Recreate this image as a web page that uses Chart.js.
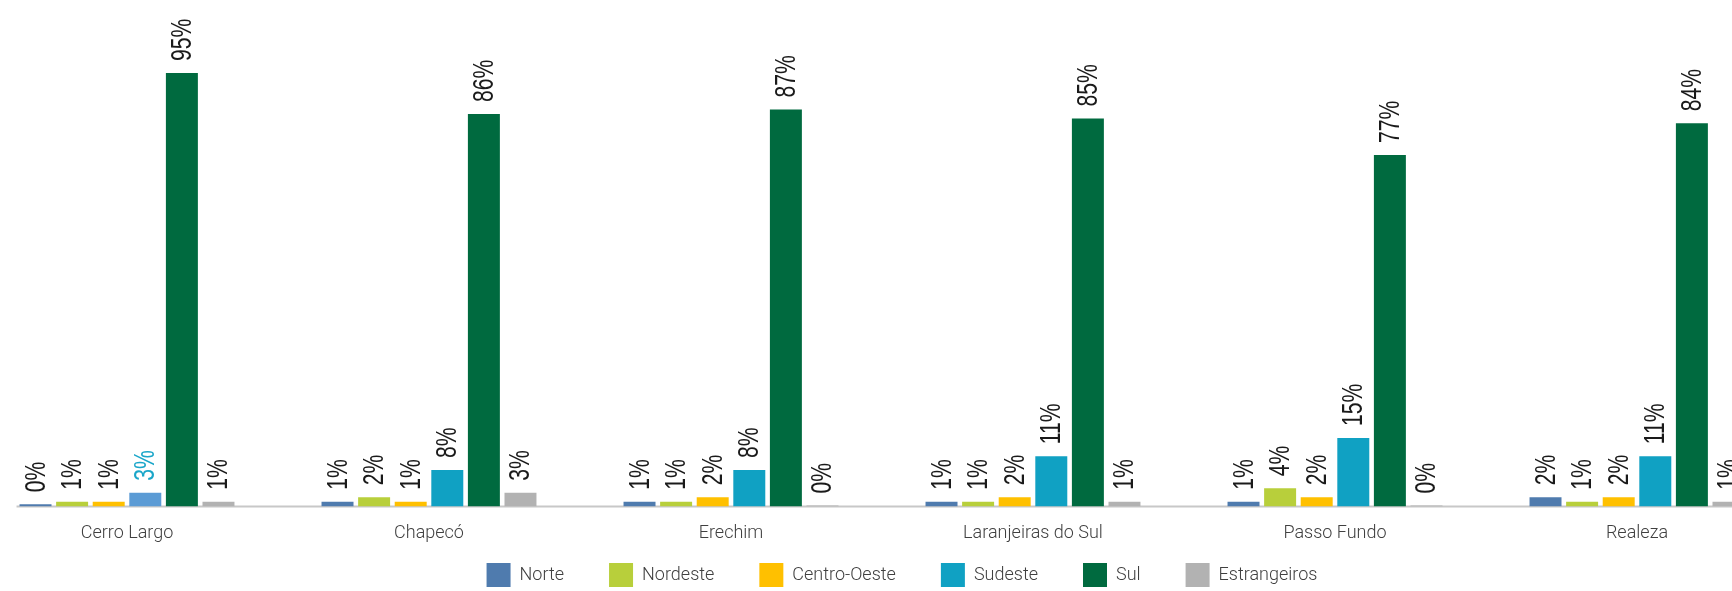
<!DOCTYPE html>
<html>
<head>
<meta charset="utf-8">
<script src="https://cdn.jsdelivr.net/npm/chart.js@4.4.1/dist/chart.umd.min.js"></script>
<style>
  html, body { margin: 0; padding: 0; background: #fff; overflow: hidden; }
  #wrap { position: relative; width: 1732px; height: 591px; overflow: hidden; }
  #chart { position: absolute; left: -24px; top: 0; }
</style>
</head>
<body>
<div id="wrap"><canvas id="chart" width="1852" height="591"></canvas></div>
<script>
// origem dos estudantes por campus (%)
const campi = ['Cerro Largo', 'Chapecó', 'Erechim', 'Laranjeiras do Sul', 'Passo Fundo', 'Realeza'];
const norte = [0.45, 1, 1, 1, 1, 2];
const nordeste = [1, 2, 1, 1, 4, 1];
const centroOeste = [1, 1, 2, 2, 2, 2];
const sudeste = [3, 8, 8, 11, 15, 11];
const sul = [95, 86, 87, 85, 77, 84];
const estrangeiros = [1, 3, 0.2, 1, 0.2, 1];

const TXT = '#404040';
const FONT = 'Roboto, "Liberation Sans", sans-serif';

// rótulos de valor girados acima de cada barra
const valueLabels = {
    id: 'valueLabels',
    afterDatasetsDraw(chart) {
        const ctx = chart.ctx;
        ctx.save();
        ctx.font = '29px "Liberation Sans", Arial, sans-serif';
        ctx.textAlign = 'left';
        ctx.textBaseline = 'middle';
        chart.data.datasets.forEach((ds, i) => {
            chart.getDatasetMeta(i).data.forEach((bar, j) => {
                const c = ds.labelColor;
                ctx.fillStyle = typeof c === 'function' ? c(j) : c;
                ctx.save();
                ctx.translate(bar.x, bar.y - 12);
                ctx.rotate(-Math.PI / 2);
                ctx.scale(0.73, 1);
                ctx.fillText(Math.round(ds.data[j]) + '%', 0, 1);
                ctx.restore();
            });
        });
        ctx.restore();
    }
};

// linha de base cinza sob as barras
const baseline = {
    id: 'baseline',
    beforeDatasetsDraw(chart) {
        const { ctx, chartArea, scales } = chart;
        const first = chart.getDatasetMeta(0).data[0];
        const y = scales.y.getPixelForValue(0);
        ctx.save();
        ctx.strokeStyle = '#c8c8c8';
        ctx.lineWidth = 2;
        ctx.beginPath();
        ctx.moveTo(first.x - first.width / 2 - 3, y);
        ctx.lineTo(chartArea.right, y);
        ctx.stroke();
        ctx.restore();
    }
};

// a legenda usa padding largo entre itens; sobe o bloco para caber no rodapé
const legendLift = {
    id: 'legendLift',
    afterLayout(chart) {
        const lg = chart.legend;
        lg.top = lg.bottom - lg.options.labels.padding - 28;
    }
};

function serie(label, data, color, extra) {
    return Object.assign({
        label: label,
        data: data,
        backgroundColor: color,
        legendColor: color,
        labelColor: '#1a1a1a',
        categoryPercentage: 0.727,
        barPercentage: 0.874
    }, extra || {});
}

new Chart(document.getElementById('chart'), {
    type: 'bar',
    data: {
        labels: campi,
        datasets: [
            serie('Norte', norte, '#4f7bae'),
            serie('Nordeste', nordeste, '#b8cf3b'),
            serie('Centro-Oeste', centroOeste, '#ffc000'),
            serie('Sudeste', sudeste, (c) => c.dataIndex === 0 ? '#5b9bd5' : '#10a1c3', {
                legendColor: '#10a1c3',
                labelColor: (j) => j === 0 ? '#1aa6c9' : '#1a1a1a'
            }),
            serie('Sul', sul, '#006a3f'),
            serie('Estrangeiros', estrangeiros, '#b2b2b2')
        ]
    },
    options: {
        responsive: false,
        animation: false,
        layout: { padding: 0 },
        scales: {
            x: {
                grid: { display: false, drawTicks: false },
                border: { display: false },
                ticks: {
                    color: TXT,
                    font: { family: FONT, weight: 300, size: 18 },
                    padding: 16,
                    maxRotation: 0,
                    autoSkip: false
                }
            },
            y: {
                position: 'right',
                min: 0,
                max: 111,
                grid: { display: false, drawTicks: false },
                border: { display: false },
                ticks: { display: false },
                afterFit(s) { s.width = 40; }
            }
        },
        plugins: {
            legend: {
                position: 'bottom',
                maxHeight: 31,
                labels: {
                    boxWidth: 24,
                    boxHeight: 24,
                    padding: 45,
                    color: TXT,
                    font: { family: FONT, weight: 300, size: 18 },
                    generateLabels(chart) {
                        const items = Chart.defaults.plugins.legend.labels.generateLabels(chart);
                        items.forEach((it) => {
                            it.fillStyle = chart.data.datasets[it.datasetIndex].legendColor;
                        });
                        return items;
                    }
                }
            },
            tooltip: { enabled: false }
        }
    },
    plugins: [baseline, valueLabels, legendLift]
});
</script>
</body>
</html>
